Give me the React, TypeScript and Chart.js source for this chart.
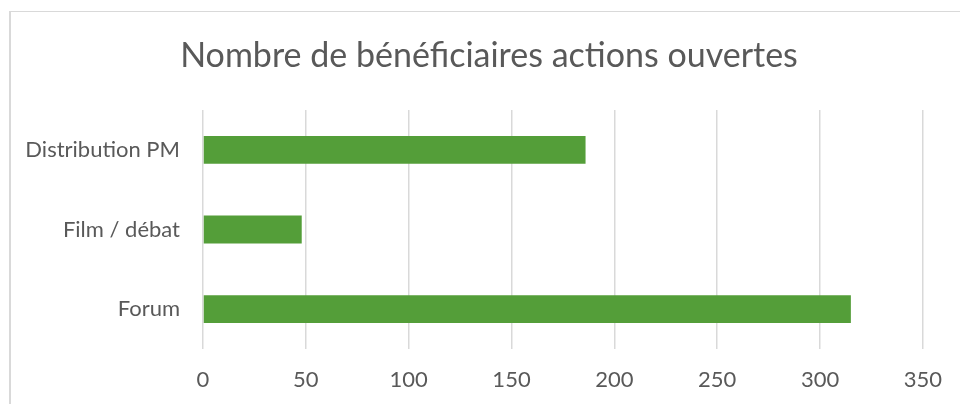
import React, { useEffect, useRef } from "react";
import { Chart, registerables } from "chart.js";

Chart.register(...registerables);

const titleText = "Nombre de bénéficiaires actions ouvertes";
const categories = ["Distribution PM", "Film / débat", "Forum"];
const values = [186, 48, 315];
const xMin = 0;
const xMax = 350;
const xStep = 50;

const FONT = "Lato, 'Open Sans', sans-serif";
const TEXT = "#595959";
const GRID = "#d9d9d9";
const BAR = "#549e39";

const titlePlugin = {
  id: "frameTitle",
  afterDraw(chart: any) {
    const ctx = chart.ctx;
    ctx.save();
    ctx.fillStyle = TEXT;
    ctx.font = `normal 34px ${FONT}`;
    ctx.textAlign = "center";
    ctx.textBaseline = "alphabetic";
    ctx.fillText(titleText, 489, 67);
    ctx.restore();
  },
};

export default function App() {
  const ref = useRef<HTMLCanvasElement | null>(null);

  useEffect(() => {
    if (!ref.current) return;
    const chart = new Chart(ref.current, {
      type: "bar",
      data: {
        labels: categories,
        datasets: [
          {
            data: values,
            backgroundColor: BAR,
            borderWidth: 0,
            categoryPercentage: 1,
            barPercentage: 0.35,
          },
        ],
      },
      options: {
        indexAxis: "y",
        animation: false,
        responsive: false,
        maintainAspectRatio: false,
        layout: { padding: { left: 0, right: 37, top: 110, bottom: 0 } },
        plugins: {
          legend: { display: false },
          tooltip: { enabled: false },
          title: { display: false },
        },
        scales: {
          x: {
            min: xMin,
            max: xMax,
            ticks: {
              stepSize: xStep,
              color: TEXT,
              font: { family: FONT, size: 22 },
              padding: 18,
            },
            grid: { color: GRID, lineWidth: 1.5, drawTicks: false },
            border: { display: false },
            afterFit: (s: any) => {
              s.height = 55;
            },
          },
          y: {
            ticks: {
              color: TEXT,
              font: { family: FONT, size: 22 },
              padding: 23,
            },
            grid: { display: false, drawTicks: false },
            border: { display: false },
            afterFit: (s: any) => {
              s.width = 203;
            },
          },
        },
      },
      plugins: [titlePlugin],
    });
    return () => chart.destroy();
  }, []);

  return (
    <div style={{ position: "absolute", left: 0, top: 0, width: 960, height: 404, background: "#fff", overflow: "hidden" }}>
      <div
        style={{
          position: "absolute",
          left: 9,
          top: 11,
          width: 1000,
          height: 500,
          borderTop: `1px solid ${GRID}`,
          borderLeft: `2px solid ${GRID}`,
          boxSizing: "border-box",
        }}
      />
      <canvas ref={ref} width={960} height={404} style={{ position: "absolute", left: 0, top: 0 }} />
    </div>
  );
}
